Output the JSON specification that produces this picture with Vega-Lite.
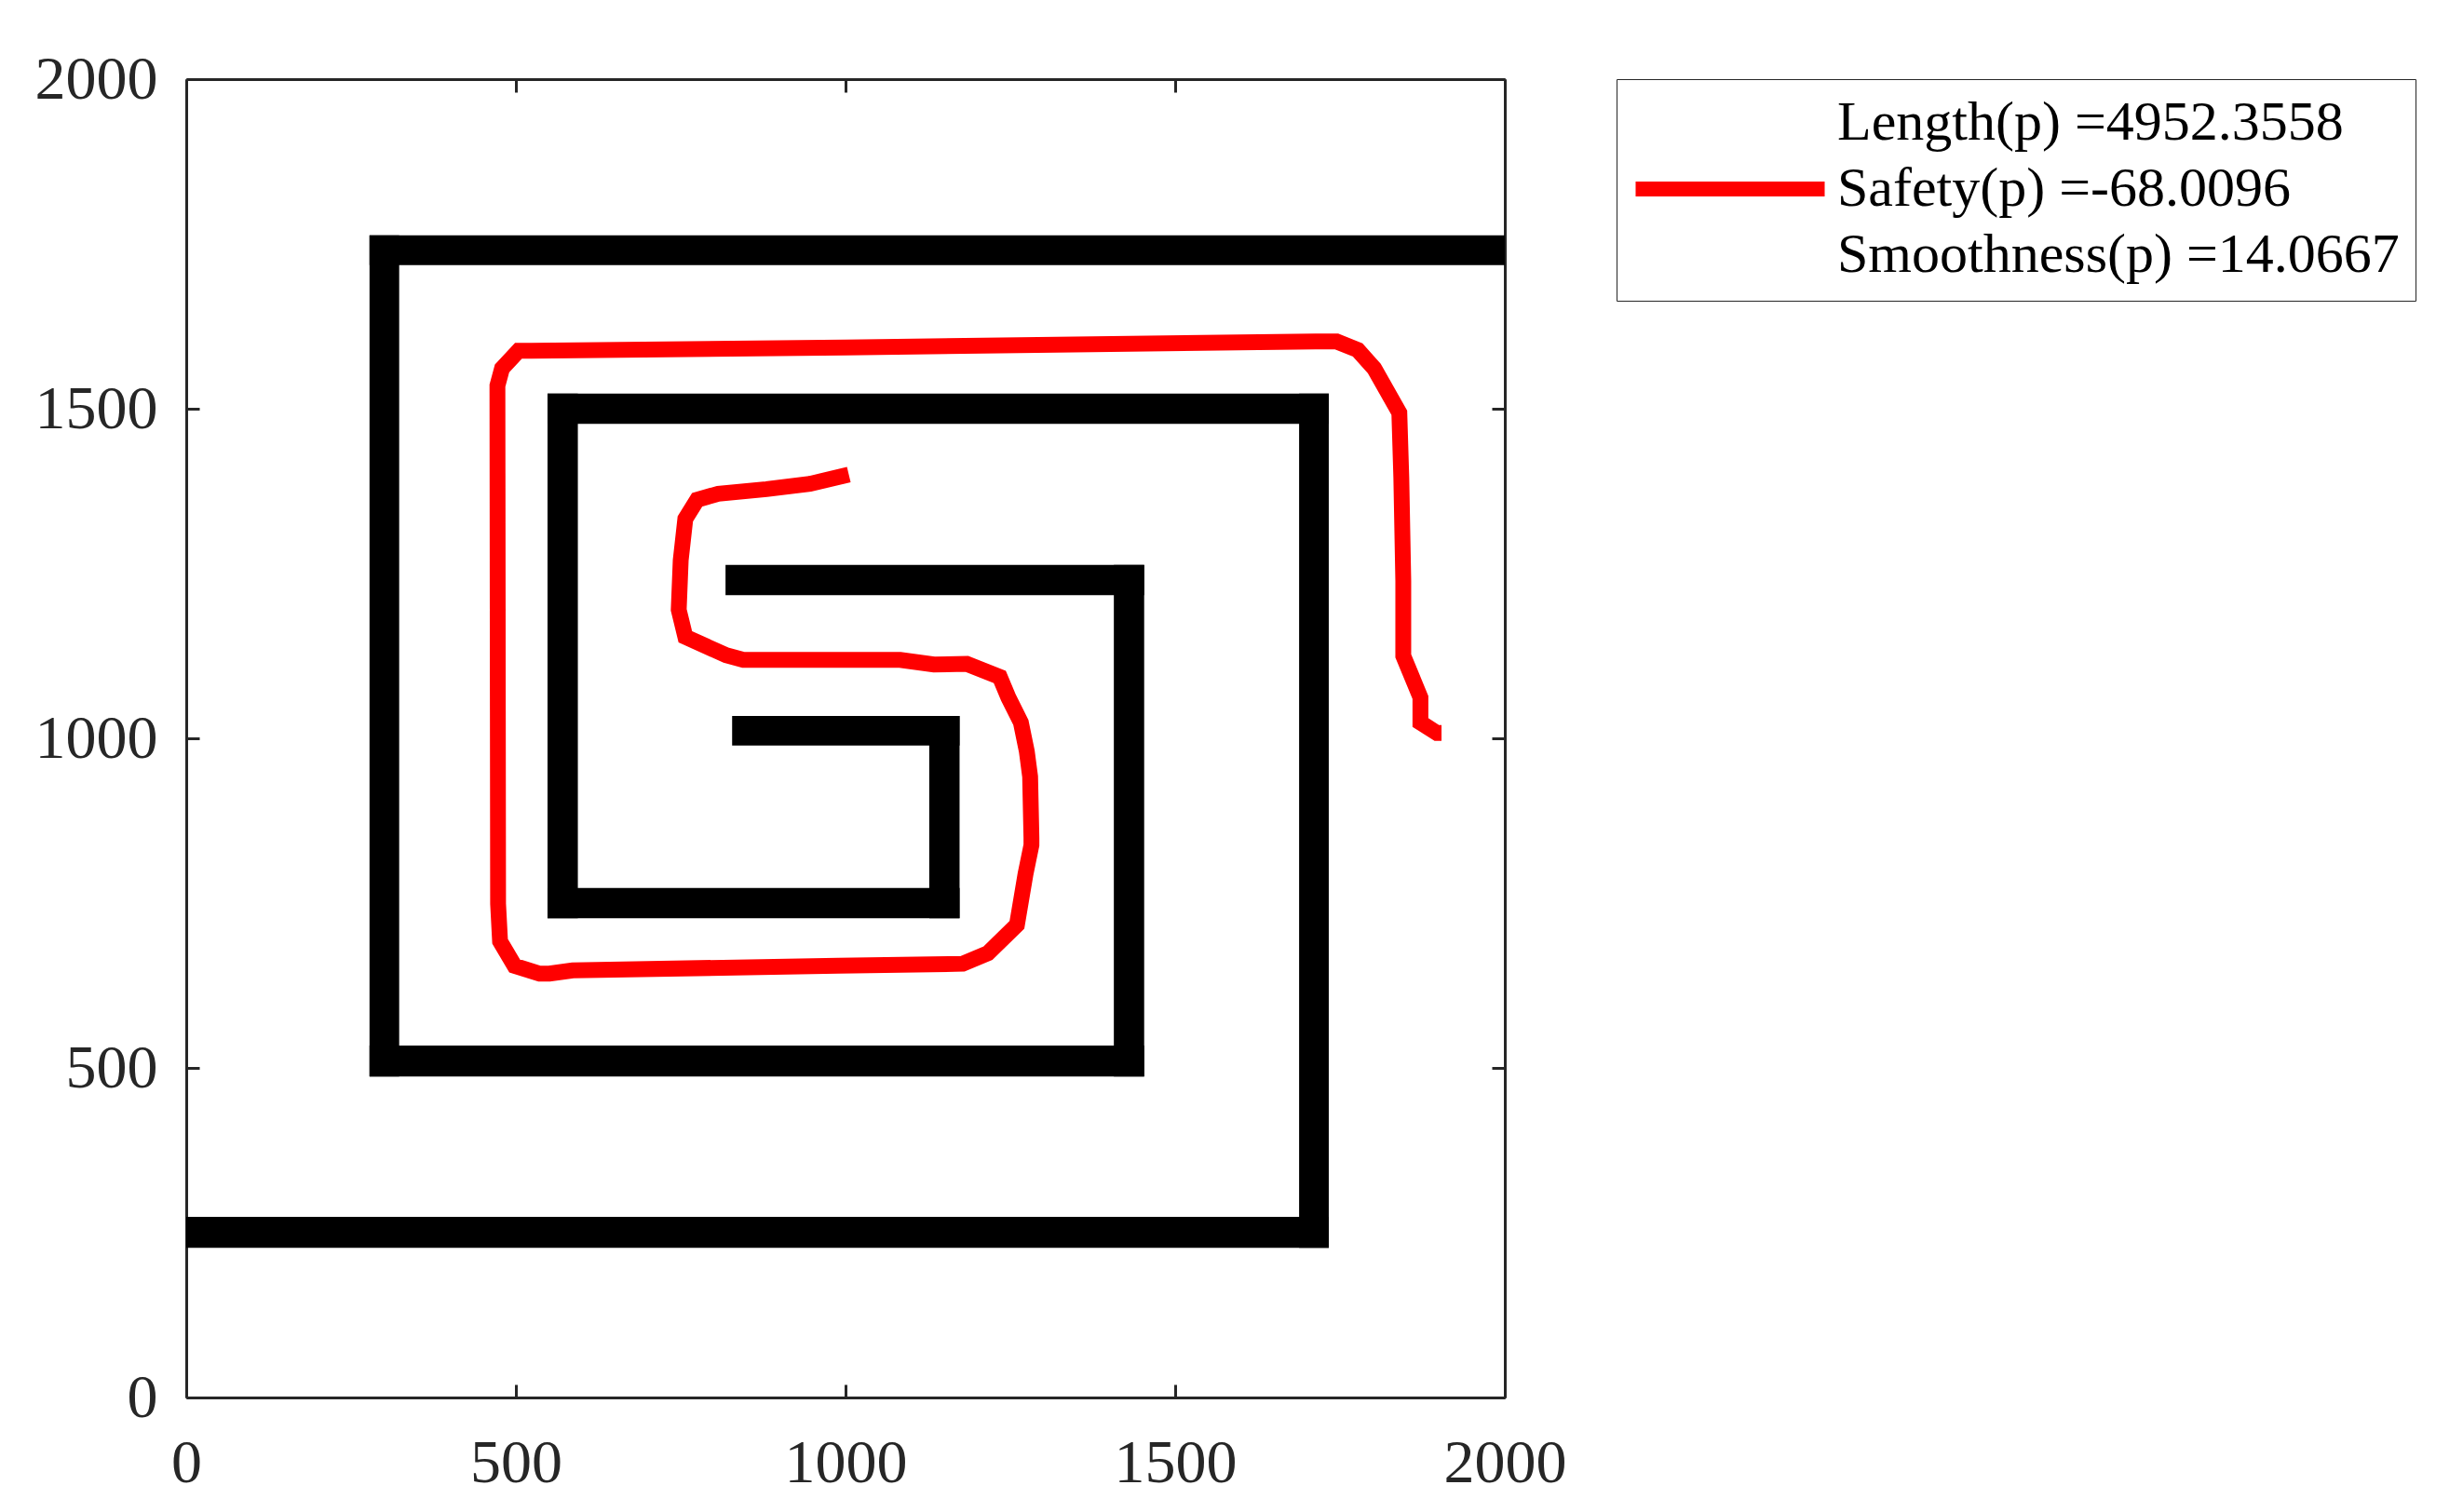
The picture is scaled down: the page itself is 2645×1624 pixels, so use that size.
{
  "$schema": "https://vega.github.io/schema/vega-lite/v6.json",
  "width": 1416,
  "height": 1416,
  "autosize": "none",
  "padding": {"left": 200, "top": 85, "right": 1029, "bottom": 123},
  "background": "white",
  "config": {
    "font": "Liberation Serif",
    "view": {"stroke": null},
    "axis": {
      "grid": false,
      "title": null,
      "domainColor": "#262626",
      "domainWidth": 3,
      "tickColor": "#262626",
      "tickWidth": 3,
      "tickSize": -14,
      "labelFlush": false,
      "labelFont": "Liberation Serif",
      "labelFontSize": 66,
      "labelColor": "#262626"
    }
  },
  "datasets": {
    "walls": [
      {"x0": 278, "x1": 2000, "y0": 1718, "y1": 1763},
      {"x0": 278, "x1": 323, "y0": 487, "y1": 1763},
      {"x0": 278, "x1": 1453, "y0": 487, "y1": 534},
      {"x0": 1407, "x1": 1453, "y0": 487, "y1": 1263},
      {"x0": 818, "x1": 1453, "y0": 1217, "y1": 1263},
      {"x0": 0, "x1": 1733, "y0": 227, "y1": 274},
      {"x0": 1688, "x1": 1733, "y0": 227, "y1": 1523},
      {"x0": 548, "x1": 1733, "y0": 1477, "y1": 1523},
      {"x0": 548, "x1": 594, "y0": 727, "y1": 1523},
      {"x0": 548, "x1": 1173, "y0": 727, "y1": 773},
      {"x0": 1127, "x1": 1173, "y0": 727, "y1": 1034},
      {"x0": 828, "x1": 1173, "y0": 989, "y1": 1034}
    ],
    "path": [
      {"i": 1, "x": 1005, "y": 1400},
      {"i": 2, "x": 946, "y": 1386},
      {"i": 3, "x": 880, "y": 1378},
      {"i": 4, "x": 807, "y": 1371},
      {"i": 5, "x": 775, "y": 1362},
      {"i": 6, "x": 757, "y": 1333},
      {"i": 7, "x": 750, "y": 1270},
      {"i": 8, "x": 747, "y": 1195},
      {"i": 9, "x": 757, "y": 1154},
      {"i": 10, "x": 819, "y": 1126},
      {"i": 11, "x": 845, "y": 1119},
      {"i": 12, "x": 989, "y": 1119},
      {"i": 13, "x": 1083, "y": 1119},
      {"i": 14, "x": 1134, "y": 1112},
      {"i": 15, "x": 1184, "y": 1113},
      {"i": 16, "x": 1234, "y": 1093},
      {"i": 17, "x": 1247, "y": 1062},
      {"i": 18, "x": 1266, "y": 1024},
      {"i": 19, "x": 1275, "y": 980},
      {"i": 20, "x": 1280, "y": 942},
      {"i": 21, "x": 1282, "y": 849},
      {"i": 22, "x": 1282, "y": 838},
      {"i": 23, "x": 1273, "y": 794},
      {"i": 24, "x": 1260, "y": 717},
      {"i": 25, "x": 1216, "y": 674},
      {"i": 26, "x": 1178, "y": 658},
      {"i": 27, "x": 989, "y": 655},
      {"i": 28, "x": 586, "y": 648},
      {"i": 29, "x": 551, "y": 643},
      {"i": 30, "x": 536, "y": 643},
      {"i": 31, "x": 498, "y": 655},
      {"i": 32, "x": 476, "y": 692},
      {"i": 33, "x": 473, "y": 749},
      {"i": 34, "x": 472, "y": 1535},
      {"i": 35, "x": 479, "y": 1561},
      {"i": 36, "x": 504, "y": 1588},
      {"i": 37, "x": 523, "y": 1588},
      {"i": 38, "x": 1000, "y": 1593},
      {"i": 39, "x": 1713, "y": 1602},
      {"i": 40, "x": 1745, "y": 1602},
      {"i": 41, "x": 1777, "y": 1589},
      {"i": 42, "x": 1802, "y": 1561},
      {"i": 43, "x": 1840, "y": 1494},
      {"i": 44, "x": 1843, "y": 1396},
      {"i": 45, "x": 1846, "y": 1239},
      {"i": 46, "x": 1846, "y": 1125},
      {"i": 47, "x": 1872, "y": 1062},
      {"i": 48, "x": 1872, "y": 1024},
      {"i": 49, "x": 1897, "y": 1008},
      {"i": 50, "x": 1904, "y": 1008}
    ]
  },
  "layer": [
    {
      "data": {"name": "walls"},
      "mark": {"type": "rect", "color": "black", "strokeWidth": 0},
      "encoding": {
        "x": {
          "field": "x0", "type": "quantitative",
          "scale": {"domain": [0, 2000], "nice": false, "zero": false},
          "axis": {"orient": "bottom", "values": [0, 500, 1000, 1500, 2000], "format": "d", "labelPadding": 52}
        },
        "x2": {"field": "x1"},
        "y": {
          "field": "y0", "type": "quantitative",
          "scale": {"domain": [0, 2000], "nice": false, "zero": false},
          "axis": {"orient": "left", "values": [0, 500, 1000, 1500, 2000], "format": "d", "labelPadding": 45}
        },
        "y2": {"field": "y1"}
      }
    },
    {
      "data": {"name": "path"},
      "mark": {"type": "line", "strokeWidth": 17, "strokeJoin": "miter"},
      "encoding": {
        "x": {
          "field": "x", "type": "quantitative",
          "axis": {"orient": "top", "values": [0, 500, 1000, 1500, 2000], "labels": false}
        },
        "y": {
          "field": "y", "type": "quantitative",
          "axis": {"orient": "right", "values": [0, 500, 1000, 1500, 2000], "labels": false}
        },
        "order": {"field": "i"},
        "color": {
          "datum": "Safety(p) =-68.0096", "type": "nominal",
          "scale": {
            "domain": ["Length(p) =4952.3558", "Safety(p) =-68.0096", "Smoothness(p) =14.0667"],
            "range": ["#ffffff", "#ff0000", "#ffffff"]
          },
          "legend": {
            "orient": "none",
            "legendX": 1536,
            "legendY": 0,
            "title": null,
            "labelFont": "Liberation Serif",
            "labelFontSize": 60,
            "labelColor": "black",
            "labelLimit": 2000,
            "symbolType": "M-8,0H8",
            "symbolSize": 644,
            "symbolStrokeWidth": 16,
            "symbolOffset": 75,
            "labelOffset": 85,
            "rowPadding": 7,
            "padding": 17,
            "strokeColor": "#262626",
            "fillColor": "white"
          }
        }
      }
    }
  ],
  "resolve": {"axis": {"x": "independent", "y": "independent"}}
}
